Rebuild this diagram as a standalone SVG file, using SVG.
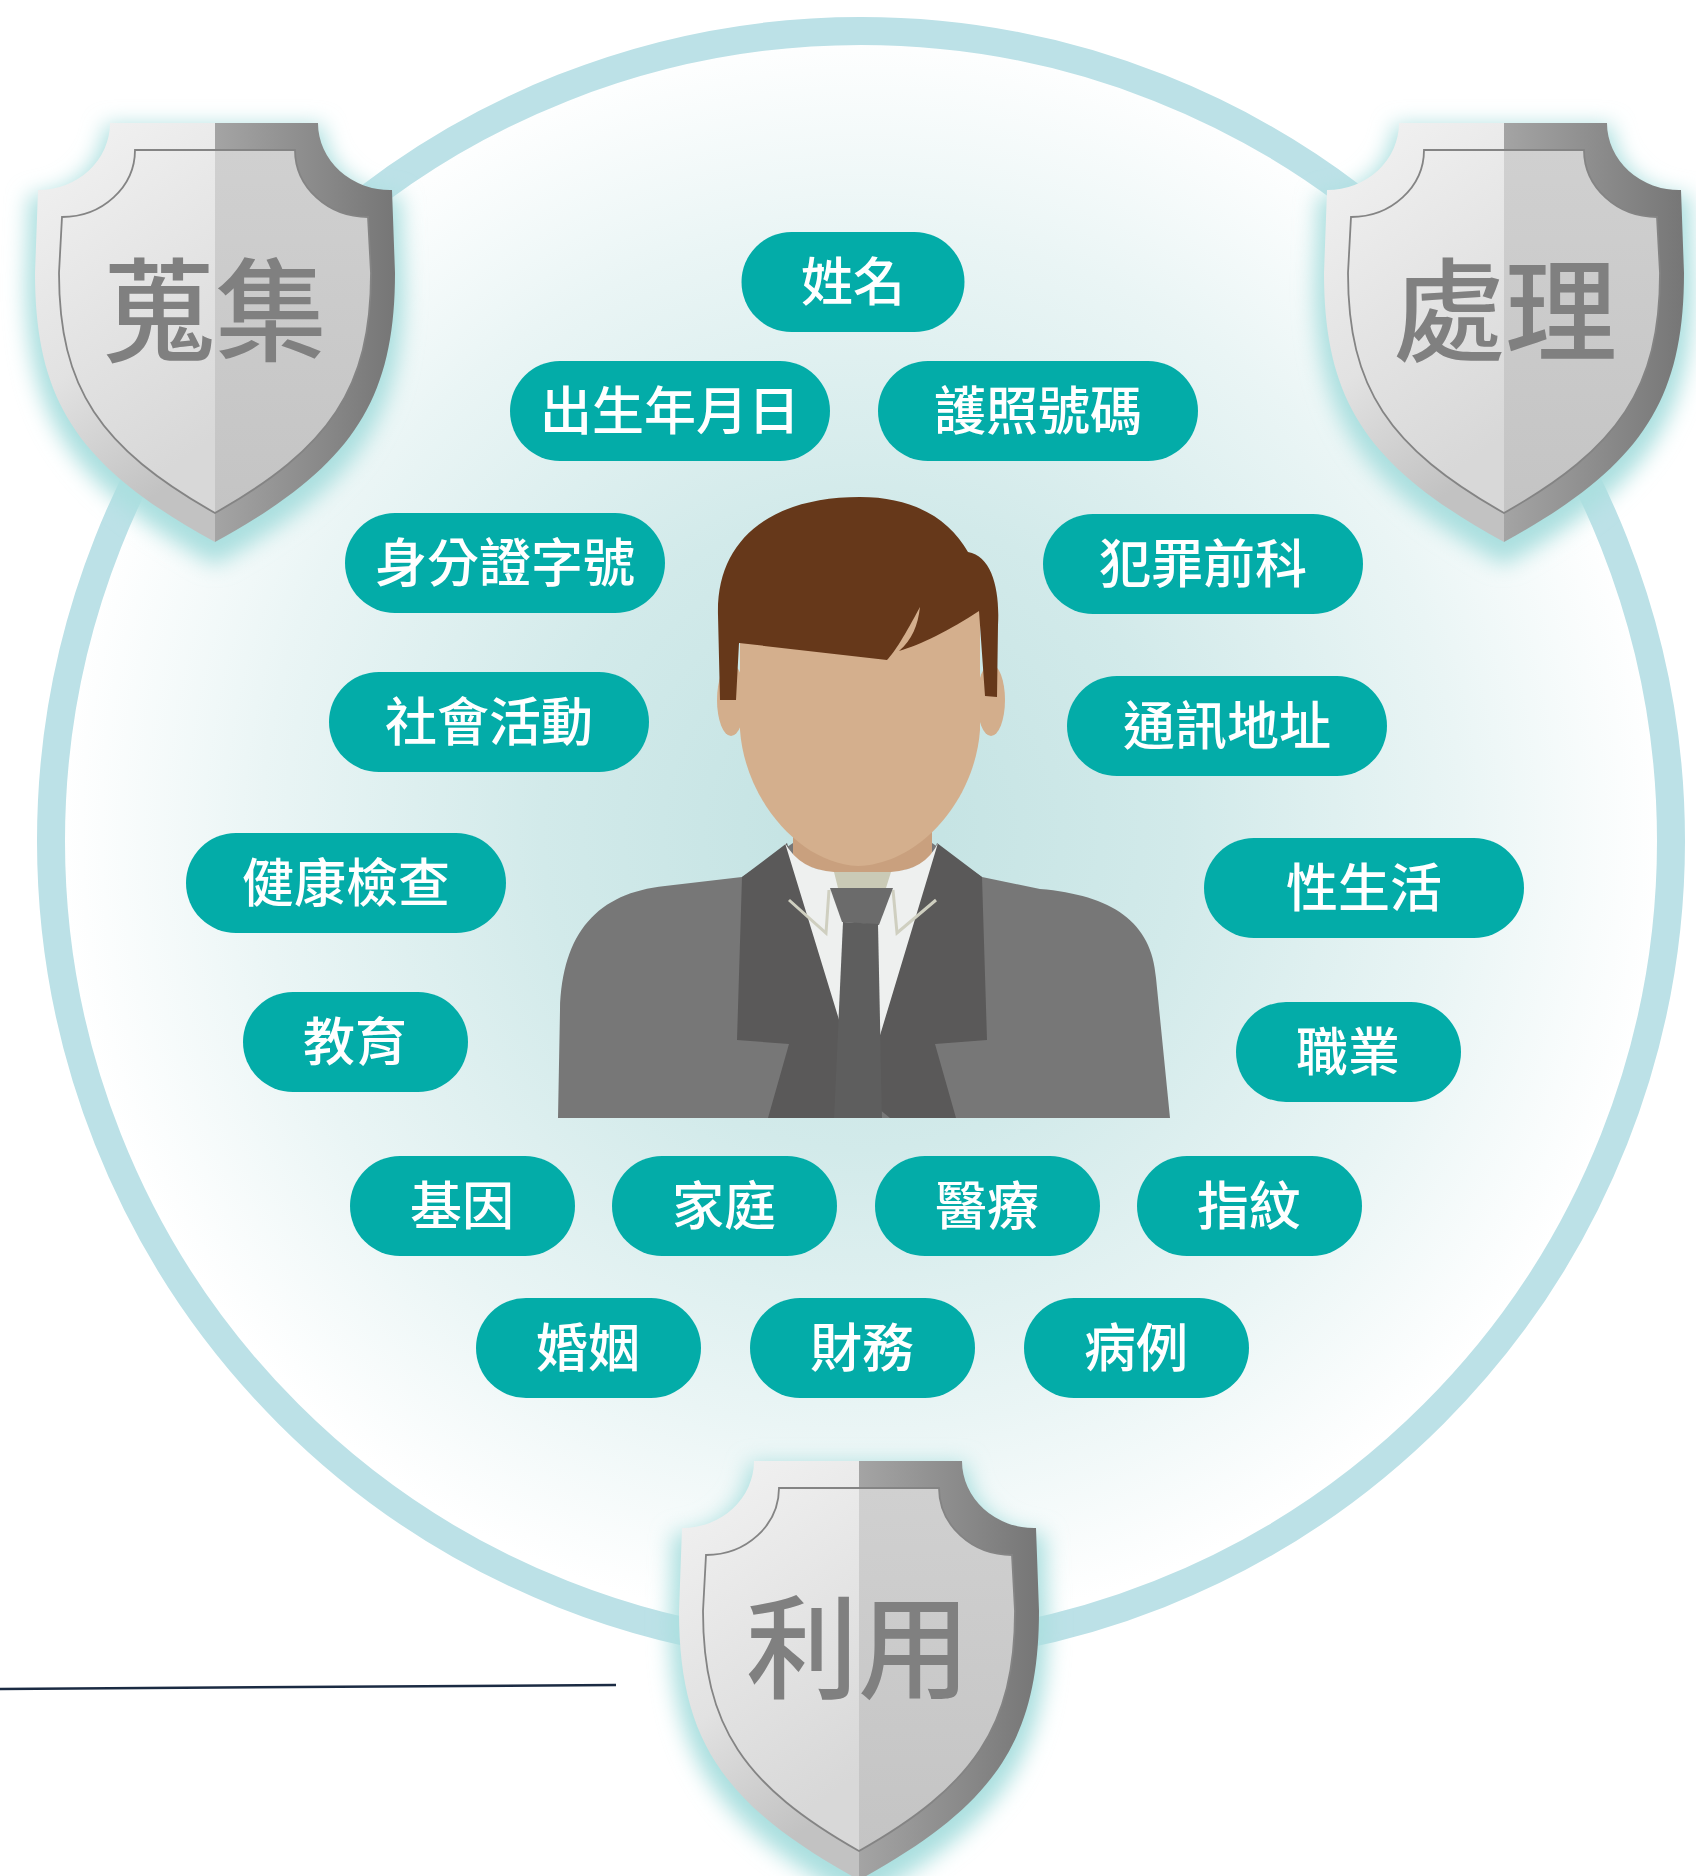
<svg xmlns="http://www.w3.org/2000/svg" xmlns:xlink="http://www.w3.org/1999/xlink" width="1696" height="1876" viewBox="0 0 1696 1876">
  <style>
    .pill rect { fill: #03aca8; }
    .pill text { fill: #ffffff; font-family: "Noto Sans CJK TC", "Noto Sans CJK SC", sans-serif; font-size: 52px; font-weight: 500; text-anchor: middle; }
    .shield-label { fill: #808080; font-family: "Noto Sans CJK TC", "Noto Sans CJK SC", sans-serif; font-size: 112px; font-weight: 500; text-anchor: middle; }
  </style>
  <defs>
    <radialGradient id="discFill" cx="862" cy="830" r="800" gradientUnits="userSpaceOnUse">
      <stop offset="0" stop-color="#c2e2e2"/>
      <stop offset="0.4" stop-color="#d2eaea"/>
      <stop offset="0.75" stop-color="#eaf5f5"/>
      <stop offset="1" stop-color="#ffffff"/>
    </radialGradient>
    <linearGradient id="rimLeft" x1="0" y1="0" x2="0.3" y2="1">
      <stop offset="0" stop-color="#f3f3f3"/>
      <stop offset="0.6" stop-color="#e2e2e2"/>
      <stop offset="1" stop-color="#c2c2c2"/>
    </linearGradient>
    <linearGradient id="rimRight" x1="0" y1="0" x2="1" y2="0">
      <stop offset="0" stop-color="#a4a4a4"/>
      <stop offset="1" stop-color="#767676"/>
    </linearGradient>
    <linearGradient id="faceLeft" x1="0" y1="0" x2="0.3" y2="1">
      <stop offset="0" stop-color="#f0f0f0"/>
      <stop offset="1" stop-color="#d8d8d8"/>
    </linearGradient>
    <linearGradient id="faceRight" x1="0" y1="0" x2="0" y2="1">
      <stop offset="0" stop-color="#d0d0d0"/>
      <stop offset="1" stop-color="#c4c4c4"/>
    </linearGradient>
    <filter id="glow" x="-20%" y="-20%" width="140%" height="140%">
      <feGaussianBlur stdDeviation="10"/>
    </filter>
    <!-- shield parts, origin at the top centre of the crest -->
    <path id="shieldOuter" d="M -105,0 L 103,0 A 72 67 0 0 0 177,67 L 180,150 C 180,280 135,345 0,419 C -135,345 -180,280 -180,150 L -177,67 A 72 67 0 0 0 -105,0 Z"/>
    <g id="shieldBody">
      <use xlink:href="#shieldOuter" fill="#aadfdf" filter="url(#glow)" transform="translate(0,2) scale(1.05)"/>
      <path d="M 0,0 L -105,0 A 72 67 0 0 1 -177,67 L -180,150 C -180,280 -135,345 0,419 Z" fill="url(#rimLeft)"/>
      <path d="M 0,0 L 103,0 A 72 67 0 0 0 177,67 L 180,150 C 180,280 135,345 0,419 Z" fill="url(#rimRight)"/>
      <path d="M 0,27 L -80,27 A 73 67 0 0 1 -153,94 L -156,150 C -156,265 -115,325 0,390 Z" fill="url(#faceLeft)"/>
      <path d="M 0,27 L 80,27 A 73 67 0 0 0 153,94 L 156,150 C 156,265 115,325 0,390 Z" fill="url(#faceRight)"/>
      <path d="M -80,27 L 80,27 A 73 67 0 0 0 153,94 L 156,150 C 156,265 115,325 0,390 C -115,325 -156,265 -156,150 L -153,94 A 73 67 0 0 0 -80,27 Z" fill="none" stroke="#848484" stroke-width="1.8"/>
    </g>
  </defs>

  <rect width="1696" height="1876" fill="#ffffff"/>

  <!-- background disc with its ring -->
  <g id="disc">
    <circle cx="861" cy="841" r="810" fill="url(#discFill)" stroke="#bce1e7" stroke-width="28"/>
  </g>

  <!-- person in the centre -->
  <g id="person">
    <path d="M 558,1118 L 560,1010 C 562,932 598,893 665,886 L 742,877 L 793,843 L 932,843 L 982,877 L 1040,889 C 1112,895 1152,922 1156,978 L 1170,1118 Z" fill="#777777"/>
    <path d="M 742,877 L 787,843 L 862,1095 L 834,1118 L 768,1118 L 789,1044 L 737,1040 Z" fill="#5a5959"/>
    <path d="M 982,877 L 937,843 L 862,1095 L 890,1118 L 956,1118 L 935,1044 L 987,1040 Z" fill="#5a5959"/>
    <path d="M 793,790 L 793,860 Q 862,892 932,860 L 932,790 Z" fill="#c9a07e"/>
    <ellipse cx="731" cy="700" rx="14" ry="36" fill="#d3ae8c"/>
    <ellipse cx="991" cy="700" rx="14" ry="36" fill="#d3ae8c"/>
    <path d="M 740,600 L 740,730 C 745,800 800,864 858,866 C 920,864 975,800 980,730 L 980,600 Z" fill="#d4af8d"/>
    <path d="M 736,700 L 720,700 L 718,615 C 716,540 770,497 860,497 C 915,497 950,520 968,552 C 992,556 1000,590 998,625 L 997,697 L 985,696 L 979,611 C 950,630 920,645 899,651 C 912,640 918,625 920,607 C 905,635 895,652 887,660 L 739,643 Z" fill="#66381a"/>
    <path d="M 785,843 Q 800,870 834,872 L 891,872 Q 925,870 938,843 L 862,1095 Z" fill="#eef0ef"/>
    <path d="M 834,872 L 891,872 L 886,888 L 838,888 Z" fill="#cacab6"/>
    <path d="M 789,900 L 826,933 L 829,890 M 936,900 L 897,933 L 893,890" fill="none" stroke="#cfcfc0" stroke-width="3"/>
    <path d="M 830,888 L 893,888 L 879,925 L 842,922 Z" fill="#6b6b6b"/>
    <path d="M 843,922 L 878,924 L 882,1118 L 834,1118 Z" fill="#5e5e5e"/>
  </g>

  <!-- personal data labels -->
  <g id="pill-name" class="pill"><rect x="741.5" y="232" width="223" height="100" rx="50"/><text x="853" y="301">姓名</text></g>
  <g id="pill-birthdate" class="pill"><rect x="510" y="361" width="320" height="100" rx="50"/><text x="670" y="430">出生年月日</text></g>
  <g id="pill-passport" class="pill"><rect x="878" y="361" width="320" height="100" rx="50"/><text x="1038" y="430">護照號碼</text></g>
  <g id="pill-id-number" class="pill"><rect x="345" y="513" width="320" height="100" rx="50"/><text x="505" y="582">身分證字號</text></g>
  <g id="pill-criminal-record" class="pill"><rect x="1043" y="514" width="320" height="100" rx="50"/><text x="1203" y="583">犯罪前科</text></g>
  <g id="pill-social" class="pill"><rect x="329" y="672" width="320" height="100" rx="50"/><text x="489" y="741">社會活動</text></g>
  <g id="pill-address" class="pill"><rect x="1067" y="676" width="320" height="100" rx="50"/><text x="1227" y="745">通訊地址</text></g>
  <g id="pill-health" class="pill"><rect x="186" y="833" width="320" height="100" rx="50"/><text x="346" y="902">健康檢查</text></g>
  <g id="pill-sex-life" class="pill"><rect x="1204" y="838" width="320" height="100" rx="50"/><text x="1364" y="907">性生活</text></g>
  <g id="pill-education" class="pill"><rect x="243" y="992" width="225" height="100" rx="50"/><text x="355" y="1061">教育</text></g>
  <g id="pill-occupation" class="pill"><rect x="1236" y="1002" width="225" height="100" rx="50"/><text x="1348" y="1071">職業</text></g>
  <g id="pill-genes" class="pill"><rect x="350" y="1156" width="225" height="100" rx="50"/><text x="462" y="1225">基因</text></g>
  <g id="pill-family" class="pill"><rect x="612" y="1156" width="225" height="100" rx="50"/><text x="724" y="1225">家庭</text></g>
  <g id="pill-medical" class="pill"><rect x="875" y="1156" width="225" height="100" rx="50"/><text x="987" y="1225">醫療</text></g>
  <g id="pill-fingerprint" class="pill"><rect x="1137" y="1156" width="225" height="100" rx="50"/><text x="1249" y="1225">指紋</text></g>
  <g id="pill-marriage" class="pill"><rect x="476" y="1298" width="225" height="100" rx="50"/><text x="588" y="1367">婚姻</text></g>
  <g id="pill-finance" class="pill"><rect x="750" y="1298" width="225" height="100" rx="50"/><text x="862" y="1367">財務</text></g>
  <g id="pill-case" class="pill"><rect x="1024" y="1298" width="225" height="100" rx="50"/><text x="1136" y="1367">病例</text></g>

  <!-- the three shields on the ring -->
  <g id="shield-collect" transform="translate(215,123)">
    <use xlink:href="#shieldBody"/>
    <text class="shield-label" x="0" y="230">蒐集</text>
  </g>
  <g id="shield-process" transform="translate(1504,123)">
    <use xlink:href="#shieldBody"/>
    <text class="shield-label" x="1" y="230">處理</text>
  </g>
  <g id="shield-use" transform="translate(859,1461)">
    <use xlink:href="#shieldBody"/>
    <text class="shield-label" x="-1" y="229">利用</text>
  </g>

  <line x1="0" y1="1689" x2="616" y2="1685" stroke="#1b2b43" stroke-width="2.5"/>
</svg>
